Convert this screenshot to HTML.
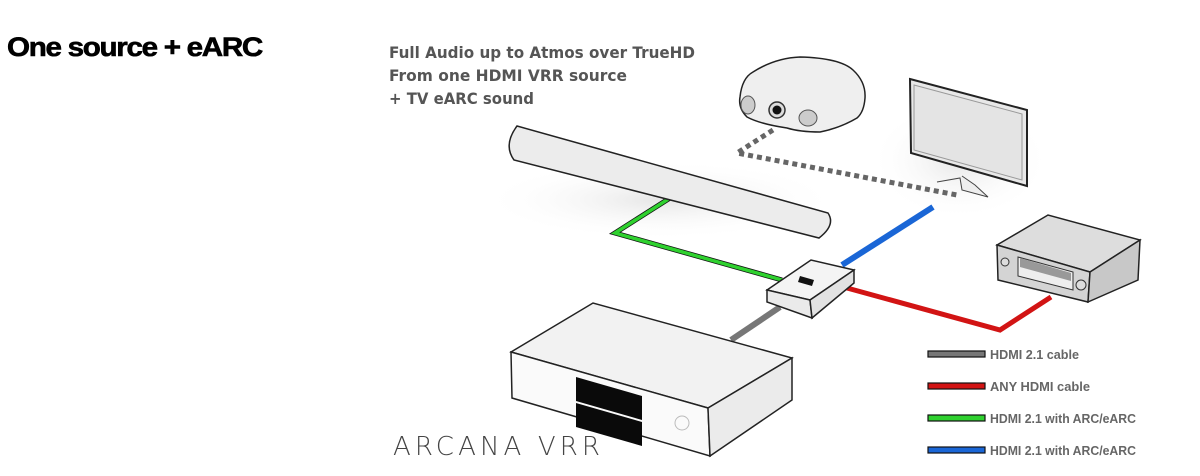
<!DOCTYPE html>
<html><head><meta charset="utf-8"><style>
html,body{margin:0;padding:0;background:#fff;}
svg{display:block;}
</style></head><body>
<svg width="1200" height="476" viewBox="0 0 1200 476" xmlns="http://www.w3.org/2000/svg">
<defs>
<radialGradient id="sh" cx="50%" cy="50%" r="50%"><stop offset="0" stop-color="#e6e6e6"/><stop offset="1" stop-color="#fff" stop-opacity="0"/></radialGradient>
</defs>
<text x="7" y="56" font-family="Liberation Sans, sans-serif" font-weight="bold" font-size="27" letter-spacing="-1.2" textLength="255" lengthAdjust="spacingAndGlyphs" fill="#000" stroke="#000" stroke-width="0.6">One source + eARC</text>
<g font-family="DejaVu Sans, Liberation Sans, sans-serif" font-weight="bold" font-size="16" fill="#555">
<text x="389" y="58" textLength="306" lengthAdjust="spacingAndGlyphs">Full Audio up to Atmos over TrueHD</text>
<text x="389" y="81" textLength="238" lengthAdjust="spacingAndGlyphs">From one HDMI VRR source</text>
<text x="389" y="104" textLength="145" lengthAdjust="spacingAndGlyphs">+ TV eARC sound</text>
</g>
<!-- shadows -->
<ellipse cx="660" cy="200" rx="180" ry="40" fill="url(#sh)"/>
<ellipse cx="960" cy="160" rx="90" ry="60" fill="url(#sh)"/>
<!-- dotted -->
<path d="M773 130 L737 153 L957 195" fill="none" stroke="#666" stroke-width="5" stroke-dasharray="5 4"/>
<!-- cables -->
<path d="M670 198 L615 233 L782 280" fill="none" stroke="#111" stroke-width="5"/>
<path d="M670 198 L615 233 L782 280" fill="none" stroke="#2fd12f" stroke-width="3.5"/>
<path d="M933 207 L842 265" fill="none" stroke="#1a66d6" stroke-width="6"/>
<path d="M847 288 L1000 330 L1051 297" fill="none" stroke="#d21414" stroke-width="5"/>
<path d="M780 307 L731 340" fill="none" stroke="#777" stroke-width="6"/>
<!-- soundbar -->
<path d="M517 126 L828 213 Q836 225 819 238 L514 160 Q503 145 517 126 Z" fill="#ececec" stroke="#222" stroke-width="1.5"/>
<!-- projector -->
<path d="M740 97 Q742 78 753 72 Q775 58 800 57 Q840 58 853 70 Q866 82 865 98 Q864 112 857 118 Q840 128 820 132 Q800 132 787 128 Q760 124 747 117 Q738 108 740 97Z" fill="#efefef" stroke="#222" stroke-width="1.5"/>
<ellipse cx="748" cy="105" rx="7" ry="9" fill="#ccc" stroke="#555"/>
<ellipse cx="808" cy="118" rx="9" ry="8" fill="#ccc" stroke="#555"/>
<circle cx="777" cy="110" r="8" fill="#ddd" stroke="#333" stroke-width="1.5"/>
<circle cx="777" cy="110" r="4.5" fill="#111"/>
<!-- TV -->
<path d="M937 182 L960 178 L962 190 L988 197 L975 185 L962 176" fill="#eee" stroke="#444"/>
<path d="M910 79 L1027 110 L1027 186 L911 153 Z" fill="#e8e8e8" stroke="#222" stroke-width="2"/>
<path d="M914 85 L1022 114 L1022 180 L914 150 Z" fill="#e4e4e4" stroke="#999"/>
<!-- receiver -->
<path d="M997 245 L1048 215 L1140 240 L1090 272 Z" fill="#ddd" stroke="#222" stroke-width="1.5"/>
<path d="M997 245 L1090 272 L1088 302 L998 280 Z" fill="#d4d4d4" stroke="#222" stroke-width="1.5"/>
<path d="M1090 272 L1140 240 L1138 280 L1088 302 Z" fill="#c8c8c8" stroke="#222" stroke-width="1.5"/>
<path d="M1018 257 L1073 272 L1073 290 L1018 276 Z" fill="#eee" stroke="#333"/>
<path d="M1020 258 L1071 273 L1071 281 L1020 267 Z" fill="#999"/>
<circle cx="1005" cy="262" r="4" fill="#ddd" stroke="#333"/>
<circle cx="1081" cy="285" r="5" fill="#ddd" stroke="#333"/>
<!-- hub -->
<path d="M767 290 L811 260 L854 270 L810 300 Z" fill="#f4f4f4" stroke="#222" stroke-width="1.5"/>
<path d="M767 290 L810 300 L812 318 L767 302 Z" fill="#eaeaea" stroke="#222" stroke-width="1.5"/>
<path d="M810 300 L854 270 L854 283 L812 318 Z" fill="#e2e2e2" stroke="#222" stroke-width="1.5"/>
<path d="M800 276 L814 280 L812 286 L798 282 Z" fill="#111"/>
<!-- player -->
<path d="M511 352 L593 303 L792 358 L708 408 Z" fill="#f2f2f2" stroke="#222" stroke-width="1.5"/>
<path d="M511 352 L708 408 L710 456 L512 398 Z" fill="#fafafa" stroke="#222" stroke-width="1.5"/>
<path d="M708 408 L792 358 L792 400 L710 456 Z" fill="#ebebeb" stroke="#222" stroke-width="1.5"/>
<path d="M576 377 L642 396 L642 420 L576 401 Z" fill="#0a0a0a"/>
<path d="M576 403 L642 422 L642 446 L576 427 Z" fill="#0a0a0a"/>
<circle cx="682" cy="423" r="7" fill="none" stroke="#bbb"/>
<!-- logo -->
<text x="393" y="455" font-family="DejaVu Sans, sans-serif" font-weight="200" font-size="26" textLength="207" lengthAdjust="spacing" fill="#444">ARCANA VRR</text>
<!-- legend -->
<g stroke="#111" stroke-width="1.2">
<rect x="928" y="351" width="57" height="6" fill="#777"/>
<rect x="928" y="383" width="57" height="6" fill="#d21414"/>
<rect x="928" y="415" width="57" height="6" fill="#2fd12f"/>
<rect x="928" y="447" width="57" height="6" fill="#1a66d6"/>
</g>
<g font-family="Liberation Sans, sans-serif" font-weight="bold" font-size="13" fill="#666">
<text x="990" y="359" textLength="89" lengthAdjust="spacingAndGlyphs">HDMI 2.1 cable</text>
<text x="990" y="391" textLength="100" lengthAdjust="spacingAndGlyphs">ANY HDMI cable</text>
<text x="990" y="423" textLength="146" lengthAdjust="spacingAndGlyphs">HDMI 2.1 with ARC/eARC</text>
<text x="990" y="455" textLength="146" lengthAdjust="spacingAndGlyphs">HDMI 2.1 with ARC/eARC</text>
</g>
</svg>
</body></html>
